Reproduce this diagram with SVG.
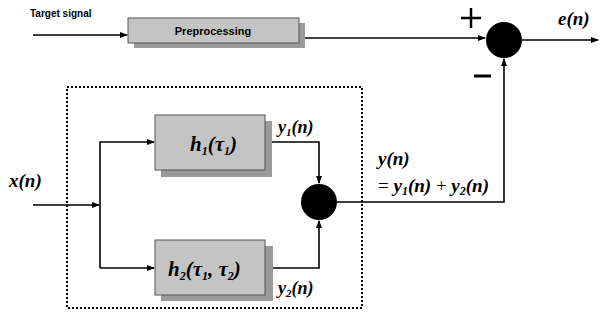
<svg xmlns="http://www.w3.org/2000/svg" width="601" height="323" viewBox="0 0 601 323">
<defs>
<marker id="ah" markerWidth="8" markerHeight="6" refX="7" refY="3" orient="auto" markerUnits="userSpaceOnUse">
<path d="M0,0 L8,3 L0,6 z" fill="#000"/>
</marker>
</defs>
<style>
.box{fill:#c4c4c4;stroke:#555;stroke-width:1}
.shadow{fill:#9a9a9a}
.ln{fill:none;stroke:#000;stroke-width:1.6}
.sum{fill:#000}
.dot{fill:none;stroke:#000;stroke-width:2;stroke-dasharray:2,2}
</style>
<rect width="601" height="323" fill="#fff"/>
<g id="connectors">
<path class="ln" d="M33,35 L127,35" marker-end="url(#ah)"/>
<path class="ln" d="M298,38 L485,38" marker-end="url(#ah)"/>
<path class="ln" d="M522,40 L598,40" marker-end="url(#ah)"/>
<path class="ln" d="M33,205 L99,205" marker-end="url(#ah)"/>
<path class="ln" d="M100,268 L100,142 L154,142" marker-end="url(#ah)"/>
<path class="ln" d="M100,268 L154,268" marker-end="url(#ah)"/>
<path class="ln" d="M265,142 L319,142 L319,183" marker-end="url(#ah)"/>
<path class="ln" d="M265,268 L319,268 L319,221" marker-end="url(#ah)"/>
<path class="ln" d="M337,202 L504,202 L504,59" marker-end="url(#ah)"/>
</g>
<g id="frame">
<rect class="dot" x="67" y="87" width="295" height="221"/>
</g>
<g id="target">
<text style="font-family:'Liberation Sans',Arial,sans-serif;font-weight:bold" x="30" y="17" font-size="10">Target signal</text>
</g>
<g id="preprocessing">
<rect class="shadow" x="134" y="23" width="171" height="25"/>
<rect class="box" x="128" y="18" width="171" height="25"/>
<text style="font-family:'Liberation Sans',Arial,sans-serif;font-weight:bold" x="213" y="35" font-size="11" text-anchor="middle">Preprocessing</text>
</g>
<g id="sum1">
<circle class="sum" cx="504" cy="40" r="18"/>
<path d="M461,18 L481,18 M471,8 L471,28" stroke="#000" stroke-width="2.5"/>
<path d="M474,76 L491,76" stroke="#000" stroke-width="3"/>
<text style="font-family:'Liberation Serif',serif;font-style:italic;font-weight:bold" x="558" y="25" font-size="19">e(n)</text>
</g>
<g id="h1">
<rect class="shadow" x="161" y="121" width="111" height="56"/>
<rect class="box" x="155" y="115" width="110" height="55"/>
<text style="font-family:'Liberation Serif',serif;font-style:italic;font-weight:bold" x="190" y="151" font-size="21">h<tspan font-size="12" dy="4">1</tspan><tspan dy="-4">(τ</tspan><tspan font-size="12" dy="4">1</tspan><tspan dy="-4">)</tspan></text>
</g>
<g id="h2">
<rect class="shadow" x="161" y="246" width="112" height="55"/>
<rect class="box" x="155" y="240" width="110" height="55"/>
<text style="font-family:'Liberation Serif',serif;font-style:italic;font-weight:bold" x="168" y="276" font-size="21">h<tspan font-size="12" dy="4">2</tspan><tspan dy="-4">(τ</tspan><tspan font-size="12" dy="4">1</tspan><tspan dy="-4">, τ</tspan><tspan font-size="12" dy="4">2</tspan><tspan dy="-4">)</tspan></text>
</g>
<g id="sum2">
<circle class="sum" cx="319" cy="202" r="18"/>
</g>
<g id="labels">
<text style="font-family:'Liberation Serif',serif;font-style:italic;font-weight:bold" x="9" y="187" font-size="19">x(n)</text>
<text style="font-family:'Liberation Serif',serif;font-style:italic;font-weight:bold" x="278" y="133" font-size="18">y<tspan font-size="11" dy="3">1</tspan><tspan dy="-3">(n)</tspan></text>
<text style="font-family:'Liberation Serif',serif;font-style:italic;font-weight:bold" x="278" y="294" font-size="18">y<tspan font-size="11" dy="3">2</tspan><tspan dy="-3">(n)</tspan></text>
<text style="font-family:'Liberation Serif',serif;font-style:italic;font-weight:bold" x="378" y="165" font-size="19">y(n)</text>
<text style="font-family:'Liberation Serif',serif;font-style:italic;font-weight:bold" x="378" y="192" font-size="19"><tspan style="font-style:normal;font-weight:normal">= </tspan>y<tspan font-size="12" dy="3">1</tspan><tspan dy="-3">(n)</tspan><tspan style="font-style:normal;font-weight:normal"> + </tspan>y<tspan font-size="12" dy="3">2</tspan><tspan dy="-3">(n)</tspan></text>
</g>
</svg>
